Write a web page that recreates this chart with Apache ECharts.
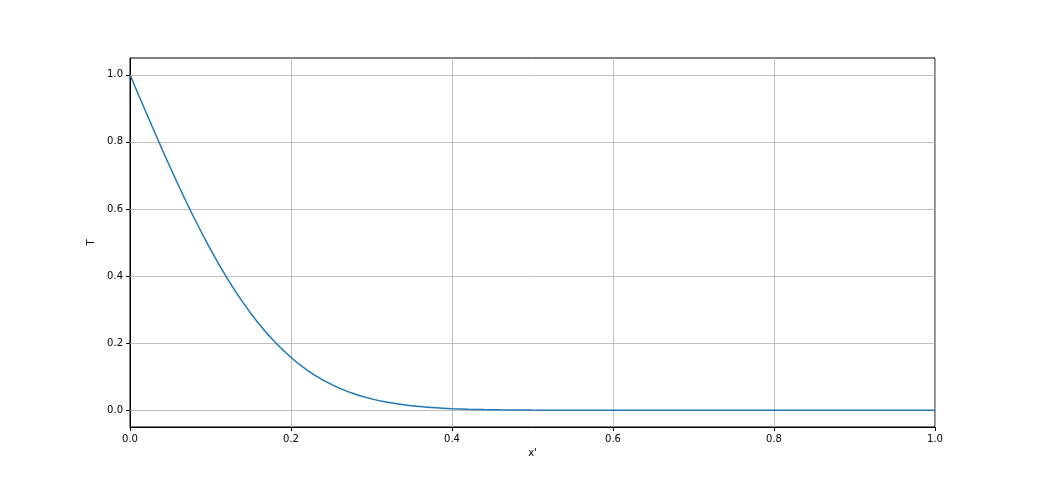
<!DOCTYPE html>
<html><head><meta charset="utf-8">
<script src="https://cdn.jsdelivr.net/npm/echarts@6/dist/echarts.min.js"></script>
<style>html,body{margin:0;padding:0;background:#fff}#c{width:1040px;height:480px}</style>
</head><body><div id="c"></div>
<script>
const xValues = [0,0.02,0.04,0.06,0.08,0.10,0.12,0.14,0.16,0.18,0.20,0.22,0.24,0.26,0.28,0.30,0.32,0.34,0.36,0.38,0.40,0.42,0.44,0.46,0.48,0.50,0.52,0.54,0.56,0.58,0.60,0.70,0.80,0.90,1.00];
const tValues = [1.0,0.8875,0.7773,0.6714,0.5716,0.4795,0.3961,0.3222,0.2579,0.2031,0.1573,0.1198,0.0897,0.0660,0.0477,0.0339,0.0237,0.0162,0.0109,0.0072,0.0047,0.0030,0.0019,0.0011,0.0007,0.0004,0.0002,0.0001,0.0001,0,0,0,0,0,0];
const yTicks = [0,0.2,0.4,0.6,0.8,1.0];
const xTicks = [0,0.2,0.4,0.6,0.8,1.0];

const chart = echarts.init(document.getElementById('c'), null, {renderer:'canvas'});
const font = 'DejaVu Sans';
chart.setOption({
  animation:false,
  backgroundColor:'#ffffff',
  grid:{left:130,right:105,top:58,bottom:53,show:true,borderColor:'#000',borderWidth:1,backgroundColor:'transparent'},
  xAxis:{type:'value',min:0,max:1,interval:0.2,
    name:"x'",nameLocation:'middle',nameGap:20,
    nameTextStyle:{fontFamily:font,fontSize:10,color:'#000'},
    axisLine:{show:true,onZero:false,lineStyle:{color:'#000',width:1}},
    axisTick:{show:true,inside:false,length:4,lineStyle:{color:'#000',width:1}},
    axisLabel:{fontFamily:font,fontSize:10,color:'#000',margin:7,formatter:v=>v.toFixed(1),showMinLabel:true,showMaxLabel:true},
    splitLine:{show:true,lineStyle:{color:'#b0b0b0',width:0.8}}
  },
  yAxis:{type:'value',min:-0.05,max:1.05,
    name:'T',nameLocation:'middle',nameGap:31,nameRotate:90,
    nameTextStyle:{fontFamily:font,fontSize:10,color:'#000'},
    axisLine:{show:true,onZero:false,lineStyle:{color:'#000',width:1}},
    axisTick:{show:true,inside:false,length:4,customValues:yTicks,lineStyle:{color:'#000',width:1}},
    axisLabel:{fontFamily:font,fontSize:10,color:'#000',margin:7,customValues:yTicks,formatter:v=>v.toFixed(1)},
    splitLine:{show:false}
  },
  series:[
    {type:'line',data:[],silent:true,
      markLine:{silent:true,symbol:'none',animation:false,label:{show:false},
        lineStyle:{color:'#b0b0b0',width:0.8,type:'solid'},
        data:yTicks.map(v=>({yAxis:v}))}
    },
    {type:'line',data:xValues.map((x,i)=>[x,tValues[i]]),showSymbol:false,smooth:0.3,
      lineStyle:{color:'#1f77b4',width:1.5},itemStyle:{color:'#1f77b4'},z:5}
  ]
});
</script></body></html>
